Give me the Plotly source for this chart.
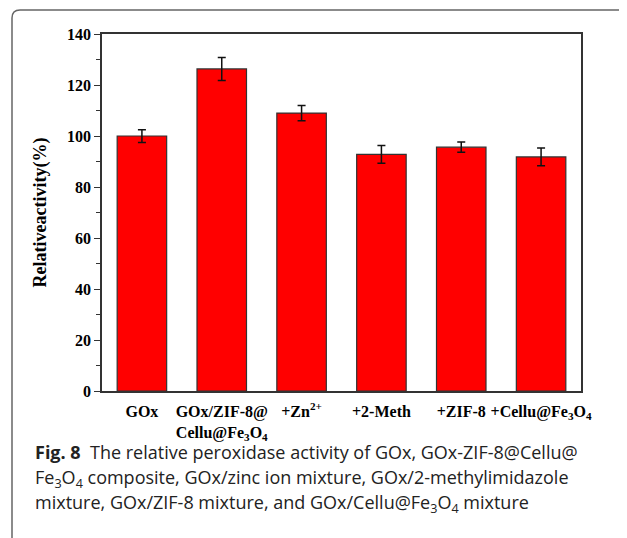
import plotly.graph_objects as go

categories = ["GOx", "GOx/ZIF-8@<br>Cellu@Fe<sub>3</sub>O<sub>4</sub>", "+Zn<sup>2+</sup>",
              "+2-Meth", "+ZIF-8", "+Cellu@Fe<sub>3</sub>O<sub>4</sub>"]
activity = [100, 126.3, 109, 92.8, 95.6, 91.8]
errors = [2.5, 4.5, 3.0, 3.5, 2.0, 3.5]
y_ticks = [0, 20, 40, 60, 80, 100, 120, 140]

serif = "Liberation Serif, Times New Roman, serif"

# page body has an 8px margin; figure is sized so it fits the window
W, H = 619, 530
L, R, T, B = 94, 46, 26, 147
PW, PH = W - L - R, H - T - B

fig = go.Figure()
fig.add_trace(go.Bar(
    x=categories, y=activity,
    marker=dict(color="#FF0000", line=dict(color="#333333", width=1.2)),
    width=0.62,
    error_y=dict(type="data", array=errors, color="#111111", thickness=1.5, width=4),
))

fig.update_layout(
    width=W, height=H,
    margin=dict(l=L, r=R, t=T, b=B),
    paper_bgcolor="white", plot_bgcolor="white",
    showlegend=False,
    xaxis=dict(
        showline=True, linecolor="#333333", linewidth=1.5, mirror=True,
        ticks="", tickfont=dict(family=serif, size=16, color="black"),
        range=[-0.5, 5.5], ticklabelstandoff=5,
        tickvals=categories, ticktext=["<b>" + c + "</b>" for c in categories],
    ),
    yaxis=dict(
        range=[0, 140], showgrid=False, zeroline=False,
        showline=True, linecolor="#333333", linewidth=1.5, mirror=True,
        ticks="outside", ticklen=6, tickcolor="#333333", tickwidth=1.2,
        minor=dict(dtick=10, ticks="outside", ticklen=4, tickcolor="#333333", tickwidth=1.2),
        tickfont=dict(family=serif, size=16, color="black"),
        tickvals=y_ticks, ticktext=["<b>%d</b>" % v for v in y_ticks],
        title=dict(text="<b>Relativeactivity(%)</b>", font=dict(family=serif, size=18, color="black"), standoff=16),
    ),
    font=dict(family=serif, color="black"),
)

# card border (rounded top-left corner)
x0 = (4 - L) / PW
y0 = (T + PH - 2) / PH
rx, ry = 8 / PW, 8 / PH
fig.add_shape(type="path", xref="paper", yref="paper",
              path=f"M {x0} -0.5 L {x0} {y0 - ry} Q {x0} {y0} {x0 + rx} {y0} L 1.3 {y0}",
              line=dict(color="#666666", width=1.5))

cap_font = dict(family="Open Sans, Noto Sans, sans-serif", size=18, color="#222222")
lines = [
    "<b>Fig. 8</b>  The relative peroxidase activity of GOx, GOx-ZIF-8@Cellu@",
    "Fe<sub>3</sub>O<sub>4</sub> composite, GOx/zinc ion mixture, GOx/2-methylimidazole",
    "mixture, GOx/ZIF-8 mixture, and GOx/Cellu@Fe<sub>3</sub>O<sub>4</sub> mixture",
]
ys = [452, 478, 503]
for t, yp in zip(lines, ys):
    fig.add_annotation(text=t, xref="paper", yref="paper",
                       x=(33 - 8 - L) / PW, y=(T + PH - (yp - 8)) / PH,
                       xanchor="left", yanchor="middle", showarrow=False,
                       font=cap_font, align="left")

fig.write_html("out.html")
